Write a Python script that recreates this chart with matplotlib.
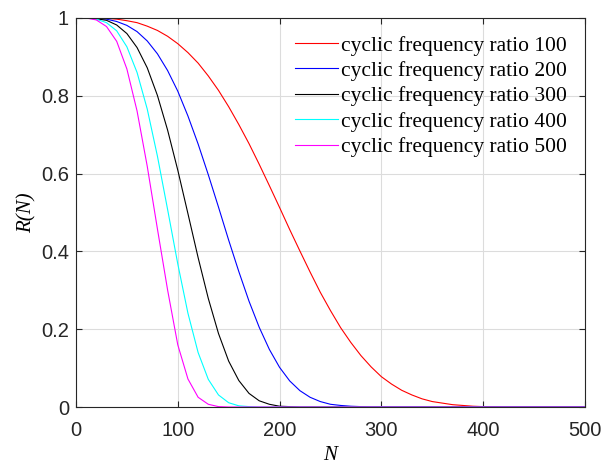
import numpy as np
import matplotlib
matplotlib.use('Agg')
import matplotlib.pyplot as plt
from matplotlib.ticker import FormatStrFormatter

# cycle count, sampled every 10
N = np.arange(0, 501, 10)

# reliability R(N)
r_100 = [1, 1, 1, 0.999, 0.997, 0.993, 0.988, 0.979, 0.968, 0.953,
         0.934, 0.911, 0.884, 0.851, 0.814, 0.772, 0.726, 0.677, 0.624, 0.569,
         0.513, 0.456, 0.401, 0.347, 0.295, 0.248, 0.204, 0.166, 0.132, 0.103,
         0.078, 0.059, 0.043, 0.031, 0.021, 0.014, 0.01, 0.006, 0.004, 0.002,
         0.001, 0.001, 0, 0, 0, 0, 0, 0, 0, 0, 0]
r_200 = [1, 1, 0.999, 0.997, 0.991, 0.981, 0.965, 0.941, 0.908, 0.865,
         0.812, 0.748, 0.676, 0.597, 0.514, 0.429, 0.348, 0.272, 0.205, 0.148,
         0.102, 0.067, 0.042, 0.025, 0.014, 0.007, 0.004, 0.002, 0.001, 0,
         0, 0, 0, 0, 0, 0, 0, 0, 0, 0,
         0, 0, 0, 0, 0, 0, 0, 0, 0, 0, 0]
r_300 = [1, 1, 0.998, 0.994, 0.982, 0.96, 0.924, 0.872, 0.801, 0.712,
         0.609, 0.497, 0.384, 0.279, 0.189, 0.118, 0.068, 0.035, 0.016, 0.007,
         0.002, 0.001, 0, 0, 0, 0, 0, 0, 0, 0,
         0, 0, 0, 0, 0, 0, 0, 0, 0, 0,
         0, 0, 0, 0, 0, 0, 0, 0, 0, 0, 0]
r_400 = [1, 1, 0.997, 0.988, 0.967, 0.926, 0.86, 0.766, 0.645, 0.508,
         0.368, 0.241, 0.14, 0.071, 0.031, 0.011, 0.003, 0.001, 0, 0,
         0, 0, 0, 0, 0, 0, 0, 0, 0, 0,
         0, 0, 0, 0, 0, 0, 0, 0, 0, 0,
         0, 0, 0, 0, 0, 0, 0, 0, 0, 0, 0]
r_500 = [1, 1, 0.995, 0.978, 0.94, 0.869, 0.761, 0.619, 0.458, 0.301,
         0.16, 0.072, 0.025, 0.007, 0.001, 0, 0, 0, 0, 0,
         0, 0, 0, 0, 0, 0, 0, 0, 0, 0,
         0, 0, 0, 0, 0, 0, 0, 0, 0, 0,
         0, 0, 0, 0, 0, 0, 0, 0, 0, 0, 0]

ratios = [100, 200, 300, 400, 500]
colors = ['#ff0000', '#0000ff', '#000000', '#00ffff', '#ff00ff']

serif = ['Liberation Serif', 'DejaVu Serif']
plt.rcParams['font.family'] = ['Liberation Sans', 'DejaVu Sans']

fig = plt.figure(figsize=(6.03, 4.66), dpi=100)
ax = fig.add_axes([0.126, 0.1266, 0.844, 0.8348])

for r, c, k in zip([r_100, r_200, r_300, r_400, r_500], colors, ratios):
    ax.plot(N, r, color=c, lw=0.8, label='cyclic frequency ratio %d' % k)

ax.set_xlim(0, 500)
ax.set_ylim(0, 1)
ax.set_xticks([0, 100, 200, 300, 400, 500])
ax.set_yticks([0, 0.2, 0.4, 0.6, 0.8, 1])
ax.yaxis.set_major_formatter(FormatStrFormatter('%g'))
ax.grid(True, color='#dcdcdc', lw=0.8)
ax.set_axisbelow(True)
ax.tick_params(direction='in', length=4, width=0.8, top=True, right=True,
               labelsize=14.5, colors='#262626')
ax.tick_params(axis='x', pad=10)
ax.tick_params(axis='y', pad=5)
for s in ax.spines.values():
    s.set_linewidth(0.8)
    s.set_color('#262626')

ax.set_xlabel('N', family=serif, style='italic', fontsize=15, labelpad=4.5)
ax.set_ylabel('R(N)', family=serif, style='italic', fontsize=15, labelpad=3)

ax.legend(loc='upper left', bbox_to_anchor=(0.43, 0.955), frameon=False,
          prop={'family': serif, 'size': 15.5}, borderpad=0, borderaxespad=0,
          handlelength=2.0, handletextpad=0.15, labelspacing=0.25)

fig.savefig('out.png', dpi=100)
